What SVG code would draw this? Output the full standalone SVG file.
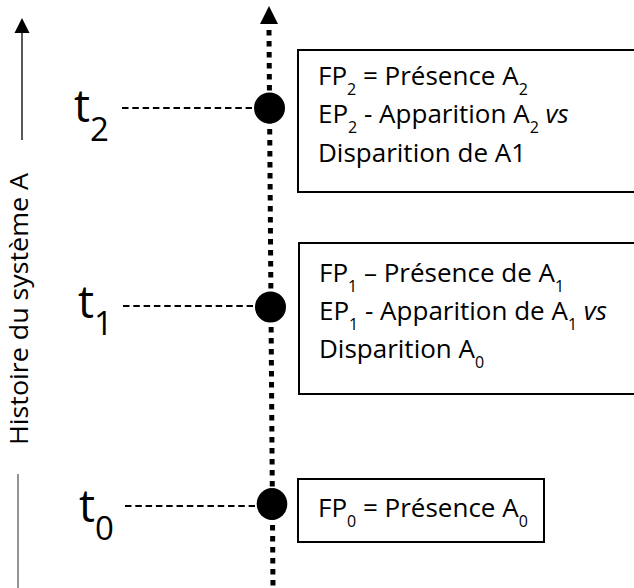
<svg xmlns="http://www.w3.org/2000/svg" width="634" height="588" viewBox="0 0 634 588">
  <style>
    text { font-family: "Open Sans", "Liberation Sans", sans-serif; fill: #000; }
    .box { fill: #fff; stroke: #000; stroke-width: 2; }
    .bt { font-size: 26px; }
    .sub { font-size: 16px; }
    .tl { font-size: 45px; }
    .tsub { font-size: 33px; }
    .tick { stroke: #000; stroke-width: 2; stroke-dasharray: 6.5 3.8; fill: none; }
    .axis { stroke: #000; stroke-width: 5; stroke-dasharray: 5.5 5.5; fill: none; }
    .dot { fill: #000; }
  </style>

  <g id="connectors">
    <line x1="22" y1="140" x2="22" y2="32" stroke="#000" stroke-width="1.3"/>
    <polygon points="22,18 14.5,33 29.5,33" fill="#000"/>
    <line x1="18" y1="474" x2="18" y2="588" stroke="#595959" stroke-width="1.3"/>
    <line class="axis" x1="269" y1="30" x2="273" y2="588"/>
    <polygon points="269,6 260,24 278,24" fill="#000"/>
    <line class="tick" x1="122" y1="108" x2="252" y2="108"/>
    <line class="tick" x1="123" y1="306" x2="253" y2="306"/>
    <line class="tick" x1="125" y1="506" x2="255" y2="506"/>
  </g>

  <text id="history-label" class="bt" transform="translate(28,445) rotate(-90)" textLength="272" lengthAdjust="spacingAndGlyphs">Histoire du système A</text>

  <g id="t2">
    <text class="tl" x="74" y="122">t<tspan class="tsub" dy="19">2</tspan></text>
    <circle class="dot" cx="269.5" cy="108" r="15.5"/>
  </g>
  <g id="t1">
    <text class="tl" x="78" y="318">t<tspan class="tsub" dy="17">1</tspan></text>
    <circle class="dot" cx="270.5" cy="307" r="15.5"/>
  </g>
  <g id="t0">
    <text class="tl" x="79" y="522">t<tspan class="tsub" dy="18">0</tspan></text>
    <ellipse class="dot" cx="272" cy="504" rx="15.3" ry="16"/>
  </g>

  <g id="box2">
    <rect class="box" x="298" y="50" width="345" height="142"/>
    <text class="bt" x="318" y="85">FP<tspan class="sub" dy="10">2</tspan><tspan dy="-10"> = Présence A</tspan><tspan class="sub" dy="10">2</tspan></text>
    <text class="bt" x="318" y="123">EP<tspan class="sub" dy="10">2</tspan><tspan dy="-10"> - Apparition A</tspan><tspan class="sub" dy="10">2</tspan><tspan dy="-10" font-style="italic"> vs</tspan></text>
    <text class="bt" x="318" y="162">Disparition de A1</text>
  </g>

  <g id="box1">
    <rect class="box" x="299" y="243" width="345" height="151"/>
    <text class="bt" x="319" y="282">FP<tspan class="sub" dy="10">1</tspan><tspan dy="-10"> – Présence de A</tspan><tspan class="sub" dy="10">1</tspan></text>
    <text class="bt" x="319" y="320">EP<tspan class="sub" dy="10">1</tspan><tspan dy="-10"> - Apparition de A</tspan><tspan class="sub" dy="10">1</tspan><tspan dy="-10" font-style="italic"> vs</tspan></text>
    <text class="bt" x="319" y="358">Disparition A<tspan class="sub" dy="10">0</tspan></text>
  </g>

  <g id="box0">
    <rect class="box" x="298" y="479" width="246" height="63"/>
    <text class="bt" x="318" y="517">FP<tspan class="sub" dy="10">0</tspan><tspan dy="-10"> = Présence A</tspan><tspan class="sub" dy="10">0</tspan></text>
  </g>
</svg>
